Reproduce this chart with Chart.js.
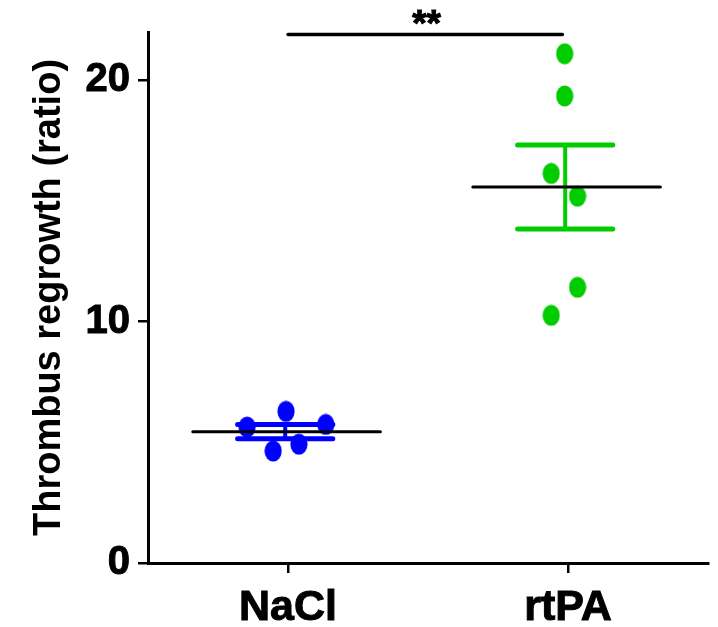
<!DOCTYPE html>
<html>
<head>
<meta charset="utf-8">
<script src="https://cdn.jsdelivr.net/npm/chart.js@4"></script>
<style>
  html, body { margin: 0; background: #fff; }
  #wrap { width: 718px; height: 627px; }
</style>
</head>
<body>
<div id="wrap"><canvas id="chart"></canvas></div>
<script>
// groups and individual measurements (thrombus regrowth ratio)
const groups = ['NaCl', 'rtPA'];
const naclValues = [5.63, 4.64, 6.28, 4.92, 5.74];
const rtpaValues = [21.1, 19.35, 16.14, 15.2, 11.42, 10.26];
// horizontal scatter of each dot around its group, in category units
const naclJitter = [-0.146, -0.053, -0.007, 0.039, 0.135];
const rtpaJitter = [-0.012, -0.012, -0.06, 0.034, 0.034, -0.06];
const yTicks = [0, 10, 20];
const yMax = 22;
const sigLabel = '**';
const sigLevel = 21.9;

const BLUE = 'rgb(0,0,255)';
const GREEN = 'rgb(0,204,0)';
const FONT = "'Liberation Sans', Arial, Helvetica, sans-serif";

const mean = a => a.reduce((s, v) => s + v, 0) / a.length;
const sem = a => {
  const m = mean(a);
  const sd = Math.sqrt(a.reduce((s, v) => s + (v - m) ** 2, 0) / (a.length - 1));
  return sd / Math.sqrt(a.length);
};

// dots are slightly taller than wide
function ellipseDot(color) {
  const c = document.createElement('canvas');
  c.width = 18; c.height = 22;
  const g = c.getContext('2d');
  g.fillStyle = color;
  g.beginPath();
  g.ellipse(9, 11, 8.6, 10.5, 0, 0, Math.PI * 2);
  g.fill();
  return c;
}

const seg = (pts, color, width, order) => ({
  type: 'line', data: pts, borderColor: color, borderWidth: width,
  pointRadius: 0, fill: false, tension: 0, order: order, clip: false,
  borderCapStyle: 'round'
});

function groupSets(values, pos, color) {
  const m = mean(values), s = sem(values);
  const cx = pos - 0.01, cap = 0.17;
  return [
    seg([{x: pos - 0.34, y: m}, {x: pos + 0.33, y: m}], '#000', 3, 0),
    seg([{x: cx, y: m - s}, {x: cx, y: m + s}], color, 4, 1),
    seg([{x: cx - cap, y: m + s}, {x: cx + cap, y: m + s}], color, 5, 1),
    seg([{x: cx - cap, y: m - s}, {x: cx + cap, y: m - s}], color, 5, 1)
  ];
}

const datasets = [
  ...groupSets(naclValues, 1, BLUE),
  ...groupSets(rtpaValues, 2, GREEN),
  seg([{x: 1, y: sigLevel}, {x: 1.98, y: sigLevel}], '#000', 3.5, 0),
  {
    type: 'scatter', order: 2,
    data: naclValues.map((v, i) => ({x: 1 + naclJitter[i], y: v})),
    pointStyle: ellipseDot(BLUE), pointRadius: 9
  },
  {
    type: 'scatter', order: 2,
    data: rtpaValues.map((v, i) => ({x: 2 + rtpaJitter[i], y: v})),
    pointStyle: ellipseDot(GREEN), pointRadius: 9
  }
];

// asterisks over the comparison bar
const sigText = {
  id: 'sigText',
  afterDatasetsDraw(chart) {
    const {ctx, scales: {x, y}} = chart;
    ctx.save();
    ctx.fillStyle = '#000';
    ctx.strokeStyle = '#000';
    ctx.lineWidth = 1;
    ctx.font = 'bold 37px ' + FONT;
    ctx.textAlign = 'center';
    ctx.textBaseline = 'alphabetic';
    const px = x.getPixelForValue(1.495), py = y.getPixelForValue(sigLevel) + 2;
    ctx.fillText(sigLabel, px, py);
    ctx.strokeText(sigLabel, px, py);
    ctx.restore();
  }
};

new Chart(document.getElementById('chart'), {
  type: 'scatter',
  data: {datasets},
  options: {
    responsive: true,
    maintainAspectRatio: false,
    animation: false,
    events: [],
    layout: {padding: {top: 30, right: 8, left: 0, bottom: 0}},
    plugins: {legend: {display: false}, tooltip: {enabled: false}},
    scales: {
      x: {
        type: 'linear', min: 0.5, max: 2.5,
        afterBuildTicks: s => { s.ticks = groups.map((g, i) => ({value: i + 1})); },
        afterFit: s => { s.height = 64; },
        ticks: {
          callback: v => groups[v - 1],
          color: '#000', padding: 9,
          textStrokeColor: '#000', textStrokeWidth: 1,
          font: {family: FONT, size: 43, weight: 'bold'}
        },
        grid: {drawOnChartArea: false, color: '#000', lineWidth: 2.5, tickLength: 10},
        border: {color: '#000', width: 3}
      },
      y: {
        min: 0, max: yMax,
        afterBuildTicks: s => { s.ticks = yTicks.map(v => ({value: v})); },
        afterFit: s => { s.width = 148; },
        ticks: {
          color: '#000', padding: 8,
          textStrokeColor: '#000', textStrokeWidth: 1,
          font: {family: FONT, size: 40, weight: 'bold'}
        },
        grid: {drawOnChartArea: false, color: '#000', lineWidth: 2.5, tickLength: 10},
        border: {color: '#000', width: 3},
        title: {
          display: true, text: 'Thrombus regrowth (ratio)', color: '#000',
          padding: {top: 27, bottom: 0},
          font: {family: FONT, size: 38, weight: 'bold'}
        }
      }
    }
  },
  plugins: [sigText]
});
</script>
</body>
</html>
